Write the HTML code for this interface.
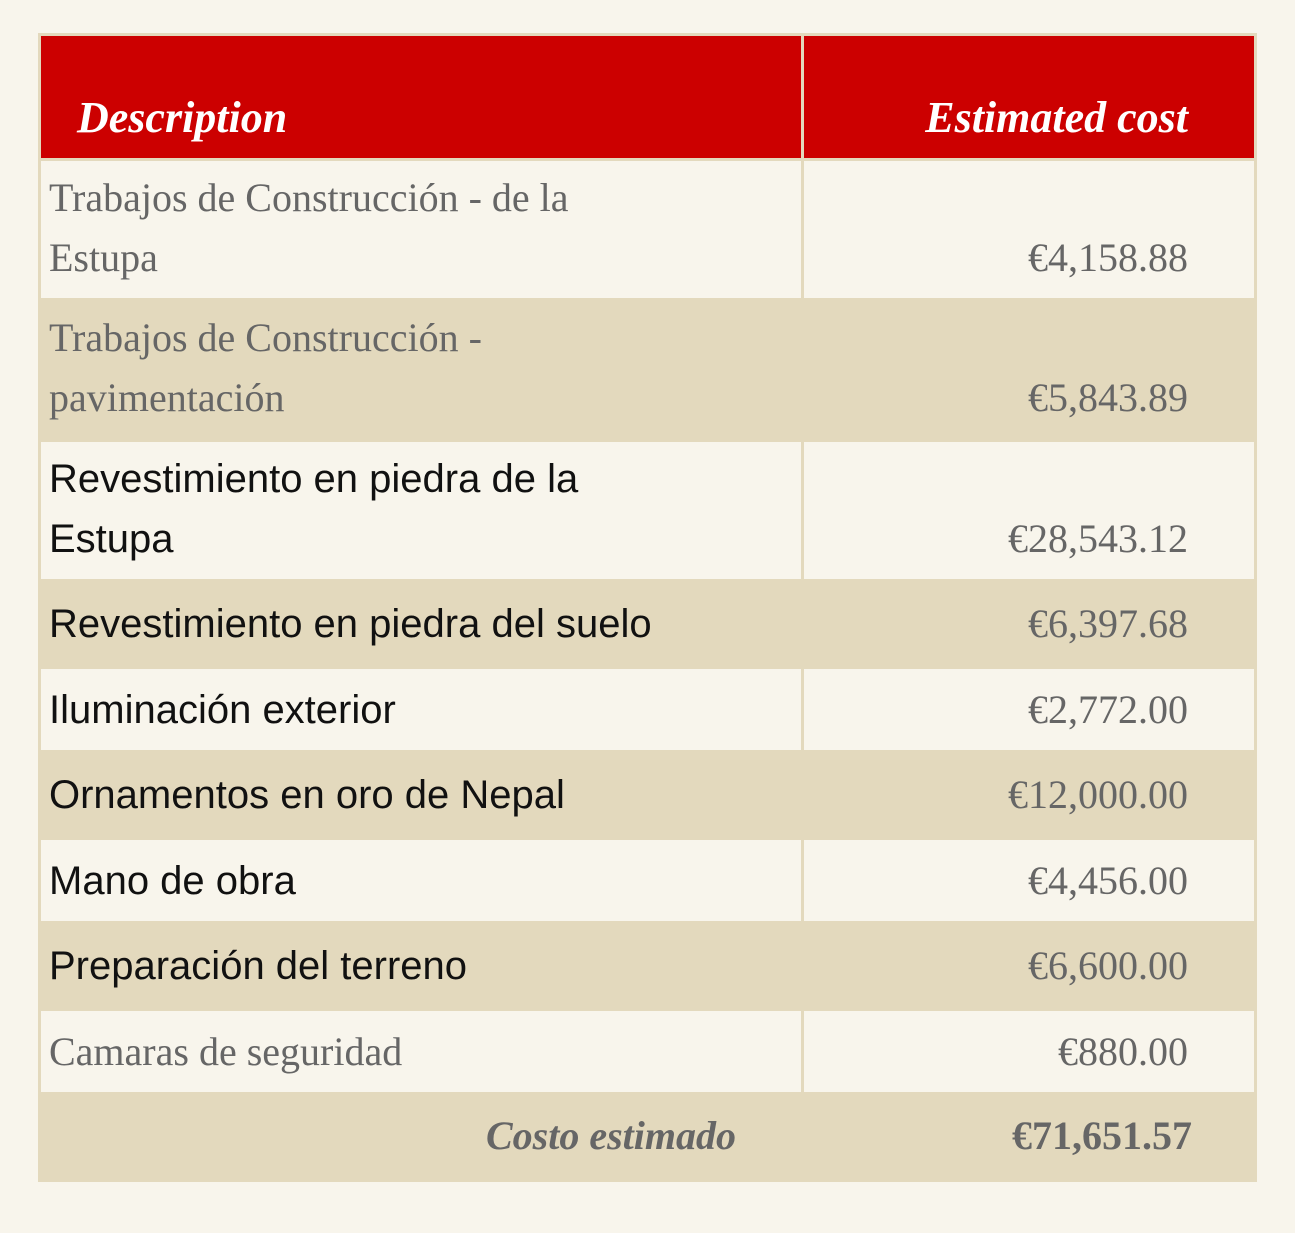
<!DOCTYPE html>
<html><head><meta charset="utf-8">
<style>
html,body{margin:0;padding:0;}
body{width:1295px;height:1233px;background:#f8f5ec;position:relative;overflow:hidden;}
.c{position:absolute;box-sizing:border-box;}
.hd{background:#cc0000;color:#fff;font-family:"Liberation Serif",serif;font-style:italic;font-weight:bold;font-size:44px;}
.lt{background:#f8f5ec;}
.tn{background:#e3d9bd;}
.t{position:absolute;font-size:40px;line-height:60px;white-space:nowrap;}
.s{font-family:"Liberation Serif",serif;color:#666;}
.a{font-family:"Liberation Sans",sans-serif;color:#111;}
.r{right:66px;text-align:right;}
</style></head><body>
<div class="c" style="left:38px;top:33px;width:1219px;height:1149px;background:#e3d9bd;"></div>
<div class="c hd" style="left:41px;top:36px;width:760px;height:122px;"><span class="t" style="left:36px;top:52px;font-size:44px;">Description</span></div>
<div class="c hd" style="left:804px;top:36px;width:450px;height:122px;"><span class="t r" style="top:52px;font-size:44px;">Estimated cost</span></div>

<div id="rows"></div>
<script>
const rows=[
 {top:161,h:137,bg:'lt',d:['Trabajos de Construcción - de la','Estupa'],v:'€4,158.88',sans:false},
 {top:300,h:140,bg:'tn',d:['Trabajos de Construcción -','pavimentación'],v:'€5,843.89',sans:false},
 {top:442,h:137,bg:'lt',d:['Revestimiento en piedra de la','Estupa'],v:'€28,543.12',sans:true},
 {top:581,h:86,bg:'tn',d:['Revestimiento en piedra del suelo'],v:'€6,397.68',sans:true},
 {top:669,h:81,bg:'lt',d:['Iluminación exterior'],v:'€2,772.00',sans:true},
 {top:752,h:86,bg:'tn',d:['Ornamentos en oro de Nepal'],v:'€12,000.00',sans:true},
 {top:840,h:81,bg:'lt',d:['Mano de obra'],v:'€4,456.00',sans:true},
 {top:923,h:86,bg:'tn',d:['Preparación del terreno'],v:'€6,600.00',sans:true},
 {top:1011,h:81,bg:'lt',d:['Camaras de seguridad'],v:'€880.00',sans:false}
];
let html='';
rows.forEach((r,i)=>{
 const two=r.d.length>1;
 const t1=two?(r.h/2-62):(r.h/2-30);
 html+=`<div class="c ${r.bg}" style="left:41px;top:${r.top}px;width:760px;height:${r.h}px;">`;
 r.d.forEach((l,j)=>{html+=`<span class="t ${r.sans?'a':'s'}" style="left:8px;top:${t1+j*60}px;">${l}</span>`;});
 html+=`</div><div class="c ${r.bg}" style="left:804px;top:${r.top}px;width:450px;height:${r.h}px;"><span class="t s r" style="top:${two?t1+60:t1}px;">${r.v}</span></div>`;
});
document.getElementById('rows').outerHTML=html;
</script>
<div class="c tn" style="left:41px;top:1094px;width:1213px;height:86px;">
<span class="t s" style="right:518px;top:12px;font-style:italic;font-weight:bold;">Costo estimado</span>
<span class="t s" style="right:62px;top:12px;font-weight:bold;">€71,651.57</span>
</div>
</body></html>
